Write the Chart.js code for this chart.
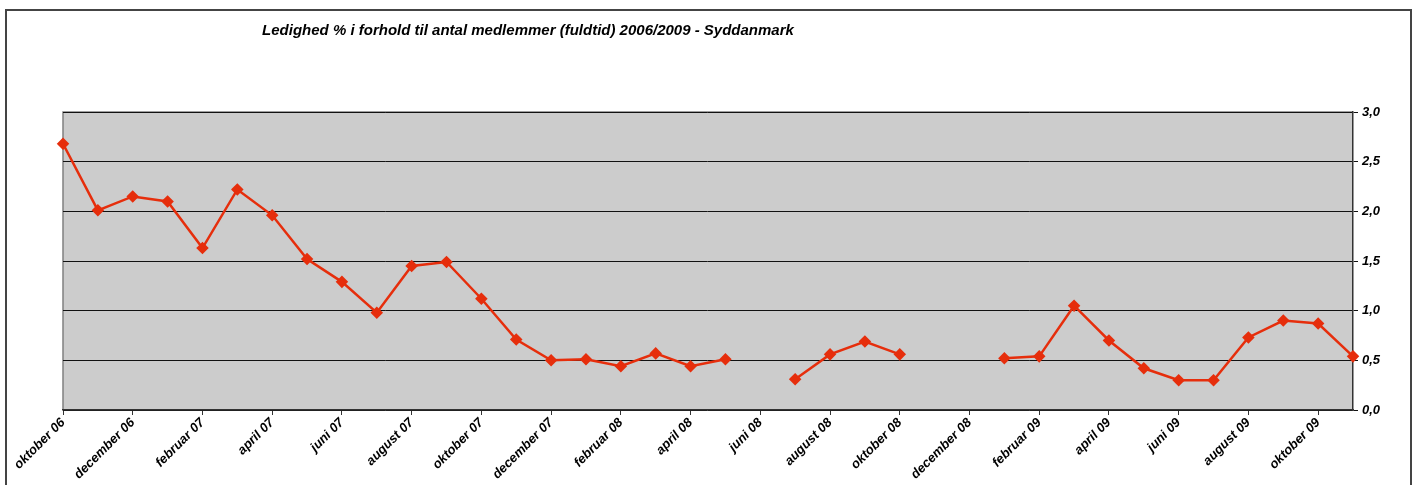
<!DOCTYPE html>
<html>
<head>
<meta charset="utf-8">
<script src="https://cdn.jsdelivr.net/npm/chart.js@4.4.1/dist/chart.umd.min.js"></script>
<style>
  html, body { margin: 0; padding: 0; background: #fff; }
  #wrap { position: relative; width: 1415px; height: 485px; overflow: hidden; }
  #frame {
    position: absolute; left: 5px; top: 9px; width: 1403px; height: 490px;
    border: 2px solid #444; pointer-events: none;
  }
  canvas { position: absolute; left: 0; top: 0; }
</style>
</head>
<body>
<div id="wrap">
  <canvas id="chart" width="1415" height="485"></canvas>
  <div id="frame"></div>
</div>
<script>
const chartTitle = "Ledighed % i forhold til antal medlemmer (fuldtid) 2006/2009 - Syddanmark";

const months = [
  "oktober 06", "november 06", "december 06",
  "januar 07", "februar 07", "marts 07", "april 07", "maj 07", "juni 07",
  "juli 07", "august 07", "september 07", "oktober 07", "november 07", "december 07",
  "januar 08", "februar 08", "marts 08", "april 08", "maj 08", "juni 08",
  "juli 08", "august 08", "september 08", "oktober 08", "november 08", "december 08",
  "januar 09", "februar 09", "marts 09", "april 09", "maj 09", "juni 09",
  "juli 09", "august 09", "september 09", "oktober 09", "november 09"
];

const ledighed = [
  2.68, 2.01, 2.15,
  2.10, 1.63, 2.22, 1.96, 1.52, 1.29,
  0.98, 1.45, 1.49, 1.12, 0.71, 0.50,
  0.51, 0.44, 0.57, 0.44, 0.51, null,
  0.31, 0.56, 0.69, 0.56, null, null,
  0.52, 0.54, 1.05, 0.70, 0.42, 0.30,
  0.30, 0.73, 0.90, 0.87, 0.54
];

const yMin = 0, yMax = 3, yStep = 0.5;

const lineColor = "#e62e0c";
const tickFont = { family: "'Liberation Sans', Arial, sans-serif", size: 13, weight: "bold", style: "italic" };

// grey plot area + title
const plotBackground = {
  id: "plotBackground",
  beforeDraw(chart) {
    const { ctx, chartArea: a } = chart;
    ctx.save();
    ctx.fillStyle = "#cccccc";
    ctx.fillRect(a.left, a.top, a.right - a.left, a.bottom - a.top);
    ctx.strokeStyle = "#808080";
    ctx.lineWidth = 1.5;
    ctx.beginPath();
    ctx.moveTo(a.left, a.bottom);
    ctx.lineTo(a.left, a.top);
    ctx.lineTo(a.right, a.top);
    ctx.stroke();
    ctx.restore();
  },
  afterDraw(chart) {
    const ctx = chart.ctx;
    ctx.save();
    ctx.font = "italic bold 15px 'Liberation Sans', Arial, sans-serif";
    ctx.fillStyle = "#000";
    ctx.textAlign = "center";
    ctx.textBaseline = "middle";
    ctx.fillText(chartTitle, 528, 31);
    ctx.restore();
  }
};

new Chart(document.getElementById("chart").getContext("2d"), {
  type: "line",
  data: {
    labels: months,
    datasets: [{
      data: ledighed,
      borderColor: lineColor,
      backgroundColor: lineColor,
      borderWidth: 2.5,
      pointStyle: "rectRot",
      pointRadius: 4.5,
      pointHoverRadius: 4.5,
      spanGaps: false,
      tension: 0,
      clip: false
    }]
  },
  options: {
    responsive: false,
    animation: false,
    events: [],
    layout: { padding: { left: 63, top: 112, right: 0, bottom: 0 } },
    plugins: { legend: { display: false }, tooltip: { enabled: false } },
    scales: {
      x: {
        offset: false,
        afterFit(scale) { scale.height = 75; },
        grid: { drawOnChartArea: false, drawTicks: true, tickLength: 5, color: "#333" },
        border: { color: "#333", width: 1.5 },
        ticks: {
          autoSkip: false,
          maxRotation: 45,
          minRotation: 45,
          padding: 0,
          color: "#000",
          font: tickFont,
          callback(v, i) { return i % 2 === 0 ? this.getLabelForValue(v) : null; }
        }
      },
      y: {
        position: "right",
        min: yMin,
        max: yMax,
        afterFit(scale) { scale.width = 62; },
        grid: { color: "#111", lineWidth: 1, drawTicks: true, tickLength: 5 },
        border: { color: "#333", width: 1.5 },
        ticks: {
          stepSize: yStep,
          padding: 4,
          color: "#000",
          font: tickFont,
          callback(v) { return v.toFixed(1).replace(".", ","); }
        }
      }
    }
  },
  plugins: [plotBackground]
});
</script>
</body>
</html>
